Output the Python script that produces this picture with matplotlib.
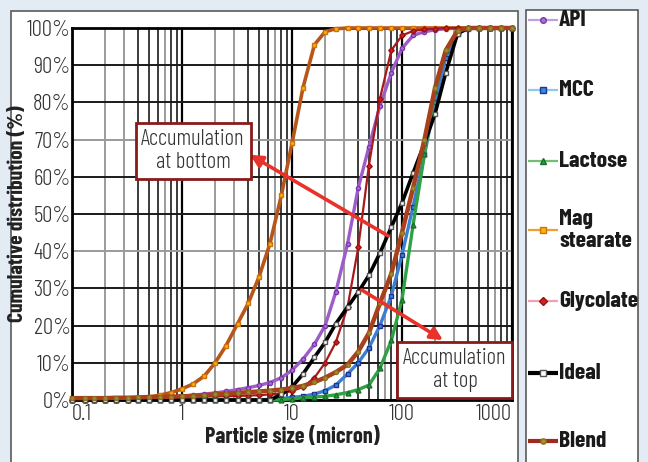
import matplotlib
matplotlib.use("Agg")
import matplotlib.pyplot as plt
from matplotlib.patches import Rectangle

plt.rcParams['font.family'] = ['Barlow Condensed', 'DejaVu Sans']

# particle size bins (micron)
sizes = [0.1, 0.13, 0.16, 0.2, 0.25, 0.32, 0.4, 0.5, 0.63, 0.8,
         1, 1.26, 1.6, 2, 2.5, 3.2, 4, 5, 6.3, 8,
         10, 12.6, 16, 20, 25, 32, 40, 50, 63, 80,
         100, 126, 160, 200, 250, 320, 400, 500, 630, 800,
         1000]

# cumulative distribution (%)
api = [0, 0, 0, 0, 0, 0, 0, 0.3, 0.5, 0.8,
       1.0, 1.3, 1.6, 1.9, 2.3, 2.8, 3.3, 3.9, 4.7, 6,
       8, 11, 15, 20, 29, 42, 57, 68, 79, 88,
       94.5, 98, 99, 99.5, 99.8, 100, 100, 100, 100, 100,
       100]
mcc = [0, 0, 0, 0, 0, 0, 0, 0, 0, 0,
       0, 0, 0, 0, 0, 0, 0, 0, 0.2, 0.4,
       0.7, 1.0, 1.6, 2.5, 4, 7, 10, 14, 20, 28,
       39, 52, 66, 80, 92, 98.5, 99.8, 100, 100, 100,
       100]
lactose = [0, 0, 0, 0, 0, 0, 0, 0, 0, 0,
           0, 0, 0, 0, 0, 0, 0, 0, 0, 0.1,
           0.3, 0.6, 0.8, 1.0, 1.4, 2.0, 2.8, 4, 8.5, 16,
           27, 47, 66, 83, 94, 99, 100, 100, 100, 100,
           100]
mag_stearate = [0, 0, 0, 0, 0, 0.2, 0.5, 0.8, 1.3, 2.0,
                3.0, 4.3, 6.5, 10, 14.5, 20.5, 26, 33, 42, 55,
                69, 84, 95.5, 99, 99.8, 100, 100, 100, 100, 100,
                100, 100, 100, 100, 100, 100, 100, 100, 100, 100,
                100]
glycolate = [0, 0, 0, 0, 0, 0, 0.2, 0.4, 0.5, 0.6,
             0.7, 0.8, 0.9, 1.0, 1.0, 1.1, 1.2, 1.3, 1.5, 1.8,
             2.4, 3.5, 6, 10, 15.5, 25, 41, 63, 81, 94,
             98, 99.2, 99.6, 99.8, 100, 100, 100, 100, 100, 100,
             100]
ideal = [0, 0, 0, 0, 0, 0, 0, 0, 0, 0,
         0, 0, 0, 0, 0, 0, 0, 0, 0, 1.5,
         3.5, 7, 11.5, 15.5, 20.5, 25, 29, 33.5, 39.5, 46.5,
         53, 61, 69, 77, 88, 98.5, 100, 100, 100, 100,
         100]
blend = [0.5, 0.5, 0.5, 0.5, 0.6, 0.6, 0.7, 0.8, 0.8, 0.9,
         1.0, 1.1, 1.3, 1.5, 1.7, 1.9, 2.1, 2.3, 2.5, 2.8,
         3.2, 3.8, 4.8, 6, 7.5, 9.5, 13, 18, 26, 34,
         45, 57, 70, 84, 94, 99.3, 100, 100, 100, 100,
         100]

# (label, values, plot style, legend line colour)
series = [
    ("API", api, dict(color='#9d5cc8', lw=2.4, marker='o', ms=3, mfc='#b070d0', mec='#7a35b0'), '#c0a0e0'),
    ("MCC", mcc, dict(color='#3c7fd0', lw=2.4, marker='s', ms=3, mfc='#2f8fd8', mec='#22329a'), '#8cc8f0'),
    ("Lactose", lactose, dict(color='#2fa245', lw=2.4, marker='^', ms=3.5, mfc='#2a9a3a', mec='#17702a'), '#70c070'),
    ("Mag\nstearate", mag_stearate, dict(color='#b8561a', lw=2.6, marker='s', ms=3, mfc='#f5b800', mec='#d07010'), '#f0a030'),
    ("Glycolate", glycolate, dict(color='#a81a1a', lw=1.6, marker='D', ms=2.8, mfc='#d02020', mec='#9a1010'), '#f0a0b0'),
    ("Ideal", ideal, dict(color='black', lw=2.6, marker='s', ms=3.5, mfc='white', mec='#555555'), 'black'),
    ("Blend", blend, dict(color='#a8401c', lw=3.2, marker='o', ms=2.8, mfc='#a89030', mec='#8a7020'), '#a02a20'),
]

W, H = 648, 462
fig = plt.figure(figsize=(W / 100, H / 100), dpi=100)
fig.patch.set_facecolor('#e3ecf5')

# background panels and legend drawn in pixel coordinates
bg = fig.add_axes([0, 0, 1, 1])
bg.set_xlim(0, W)
bg.set_ylim(H, 0)
bg.axis('off')
bg.set_zorder(-1)
bg.add_patch(Rectangle((11, 11), 507, 460, fc='white', ec='#5a5a5a', lw=1.2))
bg.add_patch(Rectangle((526, 10), 112, 460, fc='white', ec='#5a5a5a', lw=1.2))

ax = fig.add_axes([72 / W, 62 / H, 440 / W, 372 / H])
ax.set_xscale('log')
ax.set_xlim(0.1, 1000)
ax.set_ylim(0, 100)

for name, vals, st, lc in series:
    ax.plot(sizes, vals, clip_on=False, zorder=3, **st)

# grid
ax.set_xticks([0.1, 1, 10, 100, 1000])
ax.set_xticks([m * 10.0 ** e for e in range(-1, 3) for m in range(2, 10)], minor=True)
ax.set_yticks(range(0, 101, 10))
ax.grid(True, which='both', zorder=0)
for t in ax.xaxis.get_major_ticks():
    t.gridline.set(color='black', lw=1.6)
for i, t in enumerate(ax.xaxis.get_minor_ticks()):
    m = i % 8 + 2
    t.gridline.set(color='#8a8a8a' if m in (2, 3, 7) else '#1a1a1a', lw=1.2)
for t, v in zip(ax.yaxis.get_major_ticks(), range(0, 101, 10)):
    t.gridline.set(color='#9a9a9a' if v in (40, 70) else '#1a1a1a', lw=1.4)
ax.set_axisbelow(True)

for s in ax.spines.values():
    s.set_linewidth(2)
    s.set_color('black')

ax.tick_params(which='both', length=0)
ax.tick_params(axis='x', pad=3, labelsize=16.5, labelcolor='#333333')
ax.tick_params(axis='y', pad=1, labelsize=16.5, labelcolor='#333333')
ax.set_xticklabels(['0.1', '1', '10', '100', '1000'], fontweight=300)
ax.set_yticklabels([f"{v}%" for v in range(0, 101, 10)], fontweight=300)
xl = ax.get_xticklabels()
xl[0].set_ha('left')
xl[-1].set_ha('right')

ax.set_xlabel("Particle size (micron)", fontsize=16, fontweight='bold', color='#222222', labelpad=1)
ax.set_ylabel("Cumulative distribution (%)", fontsize=15.5, fontweight='bold', color='#222222', labelpad=0)

# arrows and note boxes
arrow = dict(arrowstyle='-|>', color='#e8322a', lw=2.6, mutation_scale=18, shrinkA=0, shrinkB=0)
ax.annotate("", xy=(4.15, 65.9), xytext=(75, 44.1), arrowprops=arrow, zorder=5)
ax.annotate("", xy=(236, 16.1), xytext=(43, 29.6), arrowprops=arrow, zorder=5)
box = dict(boxstyle='square,pad=0.25', fc='white', ec='#8b1a1a', lw=2)
ax.text(1.26, 66.9, "Accumulation\nat bottom", ha='center', va='center', fontsize=16.5, fontweight=300,
        color='#333333', linespacing=1.15, bbox=box, zorder=6)
ax.text(303, 8.0, "Accumulation\nat top", ha='center', va='center', fontsize=16.5, fontweight=300,
        color='#333333', linespacing=1.15, bbox=box, zorder=6)

# legend column
legend_y = [20, 90, 161, 230, 301, 373, 441]
for (name, vals, st, lc), yy in zip(series, legend_y):
    lw = 3 if name in ("Ideal", "Blend") else 1.6
    bg.plot([528, 558], [yy, yy], color=lc, lw=lw, solid_capstyle='butt')
    bg.plot([543], [yy], marker=st['marker'], ms=st['ms'] + 1, mfc=st['mfc'], mec=st['mec'], ls='none')
    bg.text(559, yy, name, ha='left', va='center', fontsize=17, fontweight='bold',
            color='#1a1a1a', linespacing=1.1)

fig.savefig("out.png", dpi=100, facecolor=fig.get_facecolor())
